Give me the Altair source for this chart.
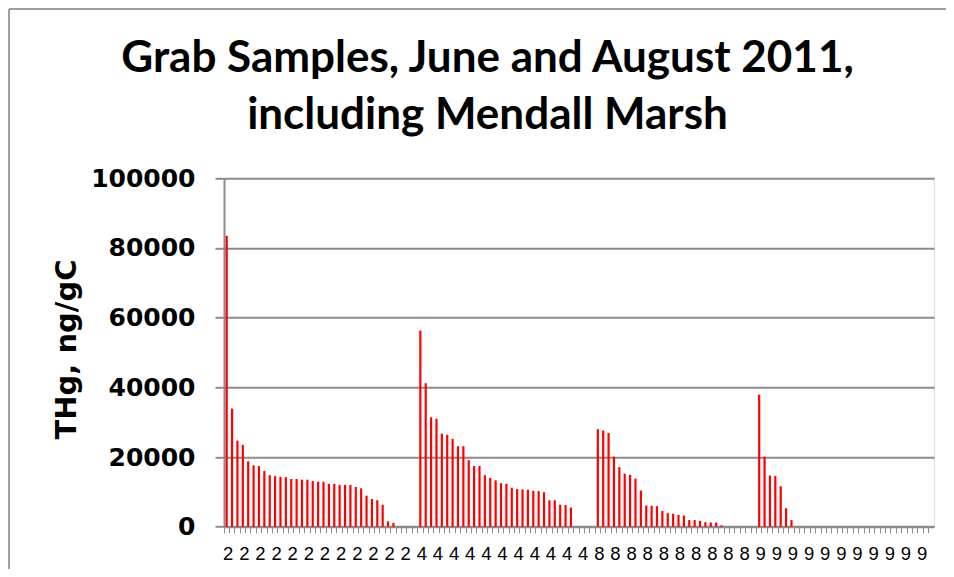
import altair as alt
import pandas as pd

# ---- data ----
group_labels = ["2", "4", "8", "9"]
values_2 = [83500, 33900, 24700, 23500, 18800, 17600, 17400, 16000, 14800, 14500,
            14300, 14200, 13700, 13700, 13500, 13500, 13100, 12900, 12900, 12300,
            12300, 12000, 12000, 12000, 11400, 11000, 8900, 7950, 7600, 6300,
            1550, 1060]
values_4 = [56300, 41200, 31400, 31000, 26700, 26400, 25200, 23100, 23100, 19100,
            17400, 17400, 14800, 14000, 13300, 12500, 12300, 11200, 10800, 10700,
            10600, 10300, 10200, 9900, 7600, 7600, 6300, 6200, 5500]
values_8 = [28000, 27600, 26900, 20100, 17100, 15200, 14900, 13800, 10400, 6100,
            6000, 5900, 4500, 3900, 3700, 3400, 3200, 1900, 1900, 1700,
            1300, 1200, 1200, 400]
values_9 = [37900, 20100, 14700, 14600, 11600, 5300, 1900]
empty_after = [4, 4, 6, 26]  # sample slots with no value after each group's bars

title_lines = ["Grab Samples, June and August 2011,", "including Mendall Marsh"]
y_title = "THg, ng/gC"
y_ticks = [0, 20000, 40000, 60000, 80000, 100000]

rows = []
idx = 0
for g, vals, n_empty in zip(group_labels, [values_2, values_4, values_8, values_9], empty_after):
    for v in list(vals) + [None] * n_empty:
        rows.append({"cat": f"{g}|{idx:03d}", "value": v})
        idx += 1
df = pd.DataFrame(rows)
cats = list(df["cat"])

GRAY = "#8c8c8c"
W, H = 710, 348.4
PAD_L, PAD_T = 216, 170.3

bars = alt.Chart(df).mark_bar(size=2.2, color="#FF0000").encode(
    x=alt.X(
        "cat:N",
        sort=None,
        scale=alt.Scale(domain=cats, paddingInner=0, paddingOuter=0),
        axis=alt.Axis(
            title=None,
            labelExpr="toNumber(split(datum.value, '|')[1]) % 3 === 0 ? split(datum.value, '|')[0] : ''",
            labelAngle=0,
            labelFont="Liberation Sans",
            labelFontSize=18.5,
            labelColor="black",
            labelPadding=12,
            labelOverlap=False,
            labelBound=False,
            labelFlush=False,
            bandPosition=0,
            labelOffset=1.5,
            tickSize=6,
            tickColor=GRAY,
            tickWidth=1,
            domainColor=GRAY,
            domainWidth=2,
            grid=False,
        ),
    ),
    y=alt.Y(
        "value:Q",
        scale=alt.Scale(domain=[0, 100000], nice=False),
        axis=alt.Axis(
            values=y_ticks,
            format="d",
            title=y_title,
            titleFont="DejaVu Sans",
            titleFontSize=29,
            titleFontWeight="bold",
            titleColor="black",
            titleAngle=270,
            titleAlign="center",
            titleBaseline="alphabetic",
            titleX=-149,
            titleY=170.7,
            labelFont="DejaVu Sans",
            labelFontSize=25,
            labelFontWeight="bold",
            labelColor="black",
            labelPadding=20,
            tickSize=9,
            tickColor=GRAY,
            tickWidth=2,
            domainColor=GRAY,
            domainWidth=2,
            grid=True,
            gridColor=GRAY,
            gridWidth=2,
        ),
    ),
)

frame_df = pd.DataFrame({"k": [0]})
frame_top = alt.Chart(frame_df).mark_rule(color="#a0a0a0", strokeWidth=2).encode(
    x=alt.value(-PAD_L + 1), x2=alt.value(938 - PAD_L), y=alt.value(-PAD_T + 1)
)
frame_left = alt.Chart(frame_df).mark_rule(color="#a0a0a0", strokeWidth=2).encode(
    x=alt.value(-PAD_L + 1), y=alt.value(-PAD_T + 1), y2=alt.value(561 - PAD_T)
)

chart = alt.layer(frame_top, frame_left, bars).properties(
    width=W,
    height=H,
    padding={"left": PAD_L, "top": PAD_T, "right": 938 - PAD_L - W, "bottom": 561 - PAD_T - H},
    autosize=alt.AutoSizeParams(type="none"),
    title=alt.TitleParams(
        text=title_lines,
        font="Lato",
        fontSize=44,
        fontWeight="bold",
        color="black",
        anchor="middle",
        frame="group",
        baseline="bottom",
        lineHeight=57,
        offset=-173.5,
        dx=-91.5,
    ),
).configure_view(stroke=None).configure(background="white")

chart.save("out.html", embed_options={"renderer": "svg", "actions": False})
